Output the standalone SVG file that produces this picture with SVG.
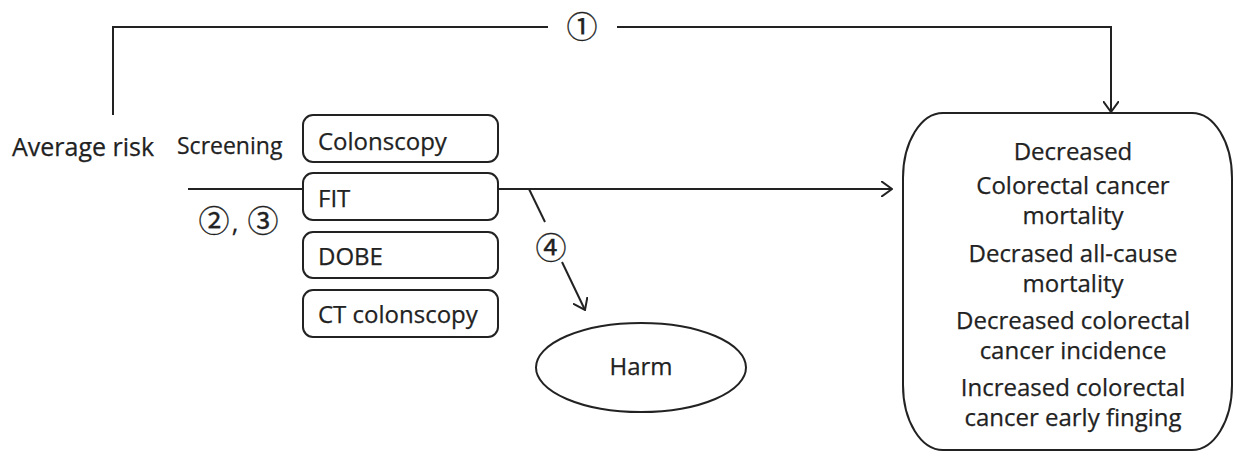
<svg xmlns="http://www.w3.org/2000/svg" width="1234" height="452" viewBox="0 0 1234 452">
  <style>
    .bg { fill: #ffffff; }
    .box { fill: #ffffff; stroke: #222; stroke-width: 2; }
    .line { fill: none; stroke: #222; stroke-width: 2; }
    .txt { font-family: "Open Sans", "Noto Sans", "Liberation Sans", sans-serif; font-size: 24px; fill: #222; stroke: #222; stroke-width: 0.25; }
    .num { font-family: "Noto Sans CJK JP", "DejaVu Sans", sans-serif; font-size: 31px; fill: #222; stroke: #222; stroke-width: 0.3; }
    .mid { text-anchor: middle; }
  </style>
  <defs>
    <marker id="arrow" viewBox="0 0 12 16" refX="11" refY="8" markerWidth="12" markerHeight="16" markerUnits="userSpaceOnUse" orient="auto">
      <path d="M0,0 L11,8 L0,16" fill="none" stroke="#222" stroke-width="2"/>
    </marker>
  </defs>
  <rect class="bg" x="0" y="0" width="1234" height="452"/>

  <!-- connectors -->
  <g id="connectors">
    <path class="line" d="M113,115 V27 H548"/>
    <path class="line" d="M617,27 H1111 V112" marker-end="url(#arrow)"/>
    <path class="line" d="M188,189 H303"/>
    <path class="line" d="M498,189 H892" marker-end="url(#arrow)"/>
    <path class="line" d="M529,189 L545,222"/>
    <path class="line" d="M562,262 L585,310" marker-end="url(#arrow)"/>
    <text class="num mid" x="582" y="38">①</text>
    <text class="num mid" y="232"><tspan x="214">②</tspan><tspan x="235" class="txt" style="font-size:26px">,</tspan><tspan x="263">③</tspan></text>
    <text class="num mid" x="551" y="259">④</text>
  </g>

  <!-- left labels -->
  <g id="average-risk">
    <text class="txt" x="12" y="156" style="font-size:25px">Average risk</text>
  </g>
  <g id="screening">
    <text class="txt" x="177" y="154" style="font-size:23px">Screening</text>
  </g>

  <!-- screening methods -->
  <g id="colonscopy">
    <rect class="box" x="303" y="115" width="195" height="47" rx="10"/>
    <text class="txt" x="318" y="150">Colonscopy</text>
  </g>
  <g id="fit">
    <rect class="box" x="303" y="173" width="195" height="47" rx="10"/>
    <text class="txt" x="318" y="207">FIT</text>
  </g>
  <g id="dobe">
    <rect class="box" x="303" y="232" width="195" height="46" rx="10"/>
    <text class="txt" x="318" y="265">DOBE</text>
  </g>
  <g id="ct-colonscopy">
    <rect class="box" x="303" y="290" width="195" height="47" rx="10"/>
    <text class="txt" x="318" y="323">CT colonscopy</text>
  </g>

  <!-- harm -->
  <g id="harm">
    <ellipse class="box" cx="641" cy="367.5" rx="105" ry="44.5"/>
    <text class="txt mid" x="641" y="375">Harm</text>
  </g>

  <!-- outcomes -->
  <g id="outcomes">
    <path class="box" d="M943,113 H1192 A40,65 0 0 1 1232,178 V385 A40,65 0 0 1 1192,450 H943 A40,65 0 0 1 903,385 V178 A40,65 0 0 1 943,113 Z"/>
    <text class="txt mid" x="1073" y="160">Decreased</text>
    <text class="txt mid" x="1073" y="194">Colorectal cancer</text>
    <text class="txt mid" x="1073" y="224">mortality</text>
    <text class="txt mid" x="1073" y="262">Decrased all-cause</text>
    <text class="txt mid" x="1073" y="292">mortality</text>
    <text class="txt mid" x="1073" y="329">Decreased colorectal</text>
    <text class="txt mid" x="1073" y="359">cancer incidence</text>
    <text class="txt mid" x="1073" y="396">Increased colorectal</text>
    <text class="txt mid" x="1073" y="426">cancer early finging</text>
  </g>
</svg>
